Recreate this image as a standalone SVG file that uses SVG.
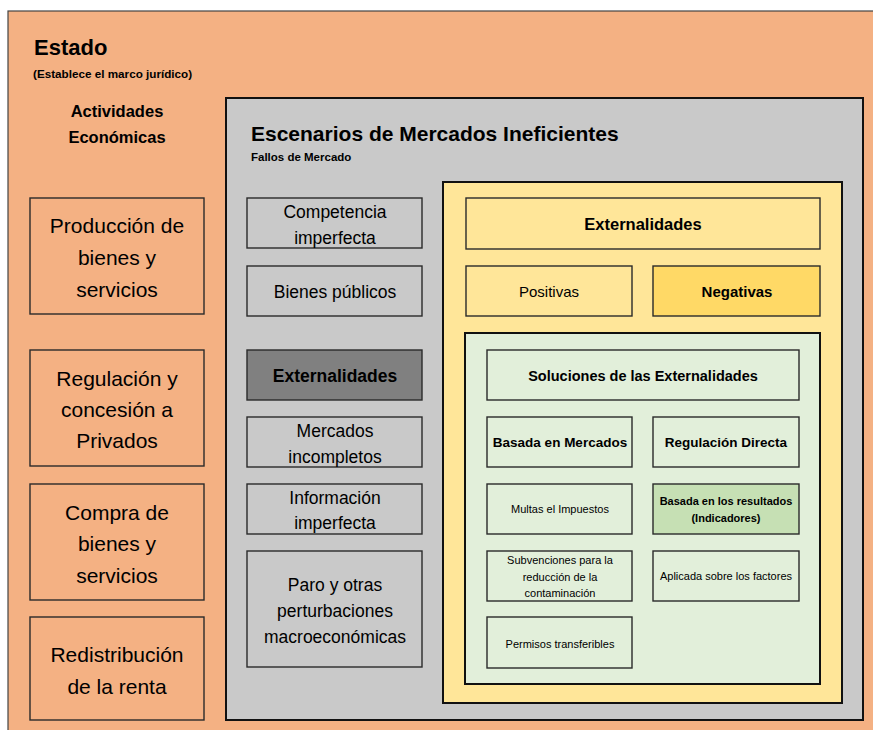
<svg xmlns="http://www.w3.org/2000/svg" width="873" height="730" viewBox="0 0 873 730">
<style>
text{font-family:"Liberation Sans",Arial,sans-serif;fill:#000;text-anchor:middle;dominant-baseline:central}
.b{font-weight:bold}
.l{text-anchor:start}
.box{stroke:#2a2a2a;stroke-width:1.4}
.cont{stroke:#111;stroke-width:2}
.or{fill:#F4B183}
.gr{fill:#C9C9C9}
.ye{fill:#FFE699}
.ye2{fill:#FFD966}
.gn{fill:#E2EFDA}
.gn2{fill:#C6E0B4}
.dk{fill:#808080}
.t21{font-size:21px}
.t17{font-size:17.5px}
.t15{font-size:15px}
.t14{font-size:14px}
.t11{font-size:11px}
</style>
<rect width="873" height="730" fill="#fff"/>
<g id="estado">
<rect class="or" x="8" y="11" width="866" height="725" stroke="#444" stroke-width="1.2"/>
<text class="b l" x="34" y="47" font-size="22">Estado</text>
<text class="b l" x="33" y="73" font-size="11.7">(Establece el marco jurídico)</text>
<text class="b" x="117" y="111" font-size="16.5">Actividades</text>
<text class="b" x="117" y="137" font-size="16.5">Económicas</text>
</g>
<g id="produccion">
<rect class="or box" x="30" y="198" width="174" height="116"/>
<text class="t21" x="117" y="225">Producción de</text>
<text class="t21" x="117" y="257">bienes y</text>
<text class="t21" x="117" y="289">servicios</text>
</g>
<g id="regulacion">
<rect class="or box" x="30" y="350" width="174" height="116"/>
<text class="t21" x="117" y="378">Regulación y</text>
<text class="t21" x="117" y="409">concesión a</text>
<text class="t21" x="117" y="440">Privados</text>
</g>
<g id="compra">
<rect class="or box" x="30" y="484" width="174" height="116"/>
<text class="t21" x="117" y="512">Compra de</text>
<text class="t21" x="117" y="543">bienes y</text>
<text class="t21" x="117" y="575">servicios</text>
</g>
<g id="redistribucion">
<rect class="or box" x="30" y="617" width="174" height="103"/>
<text class="t21" x="117" y="654">Redistribución</text>
<text class="t21" x="117" y="686">de la renta</text>
</g>
<g id="escenarios">
<rect class="gr cont" x="226" y="98" width="637" height="622"/>
<text class="b l" x="251" y="133" font-size="21">Escenarios de Mercados Ineficientes</text>
<text class="b l" x="251" y="157" font-size="11.5">Fallos de Mercado</text>
</g>
<g id="competencia">
<rect class="gr box" x="247" y="198" width="175" height="50"/>
<text class="t17" x="335" y="212">Competencia</text>
<text class="t17" x="335" y="238">imperfecta</text>
</g>
<g id="bienes">
<rect class="gr box" x="247" y="266" width="175" height="50"/>
<text class="t17" x="335" y="292">Bienes públicos</text>
</g>
<g id="externalidades-fallo">
<rect class="dk box" x="247" y="350" width="175" height="50"/>
<text class="t17 b" x="335" y="376" font-size="16">Externalidades</text>
</g>
<g id="mercados">
<rect class="gr box" x="247" y="417" width="175" height="50"/>
<text class="t17" x="335" y="431">Mercados</text>
<text class="t17" x="335" y="457">incompletos</text>
</g>
<g id="informacion">
<rect class="gr box" x="247" y="484" width="175" height="50"/>
<text class="t17" x="335" y="498">Información</text>
<text class="t17" x="335" y="523">imperfecta</text>
</g>
<g id="paro">
<rect class="gr box" x="247" y="551" width="175" height="116"/>
<text class="t17" x="335" y="585">Paro y otras</text>
<text class="t17" x="335" y="611">perturbaciones</text>
<text class="t17" x="335" y="637">macroeconómicas</text>
</g>
<g id="externalidades-panel">
<rect class="ye cont" x="443" y="182" width="399" height="521" stroke-width="2.5"/>
</g>
<g id="externalidades">
<rect class="ye box" x="466" y="198" width="354" height="51"/>
<text class="b" x="643" y="224" font-size="16.5">Externalidades</text>
</g>
<g id="positivas">
<rect class="ye box" x="466" y="266" width="166" height="50"/>
<text class="t15" x="549" y="291" font-size="14.5">Positivas</text>
</g>
<g id="negativas">
<rect class="ye2 box" x="653" y="266" width="167" height="50"/>
<text class="t15 b" x="737" y="291">Negativas</text>
</g>
<g id="soluciones-panel">
<rect class="gn cont" x="465" y="333" width="355" height="351"/>
</g>
<g id="soluciones">
<rect class="gn box" x="487" y="350" width="312" height="50"/>
<text class="b" x="643" y="376" font-size="14.5">Soluciones de las Externalidades</text>
</g>
<g id="basada-mercados">
<rect class="gn box" x="487" y="417" width="145" height="50"/>
<text class="b" x="560" y="442" font-size="13.5">Basada en Mercados</text>
</g>
<g id="regulacion-directa">
<rect class="gn box" x="653" y="417" width="146" height="50"/>
<text class="b" x="726" y="442" font-size="13.5">Regulación Directa</text>
</g>
<g id="multas">
<rect class="gn box" x="487" y="484" width="145" height="50"/>
<text class="t11" x="560" y="509">Multas el Impuestos</text>
</g>
<g id="basada-resultados">
<rect class="gn2 box" x="653" y="484" width="146" height="50"/>
<text class="t11 b" x="726" y="501" font-size="10.5">Basada en los resultados</text>
<text class="t11 b" x="726" y="518" font-size="10.5">(Indicadores)</text>
</g>
<g id="subvenciones">
<rect class="gn box" x="487" y="551" width="145" height="50"/>
<text class="t11" x="560" y="560">Subvenciones para la</text>
<text class="t11" x="560" y="577">reducción de la</text>
<text class="t11" x="560" y="593">contaminación</text>
</g>
<g id="aplicada">
<rect class="gn box" x="653" y="551" width="146" height="50"/>
<text class="t11" x="726" y="576">Aplicada sobre los factores</text>
</g>
<g id="permisos">
<rect class="gn box" x="487" y="617" width="145" height="51"/>
<text class="t11" x="560" y="644">Permisos transferibles</text>
</g>
<g id="connectors"></g>
</svg>
